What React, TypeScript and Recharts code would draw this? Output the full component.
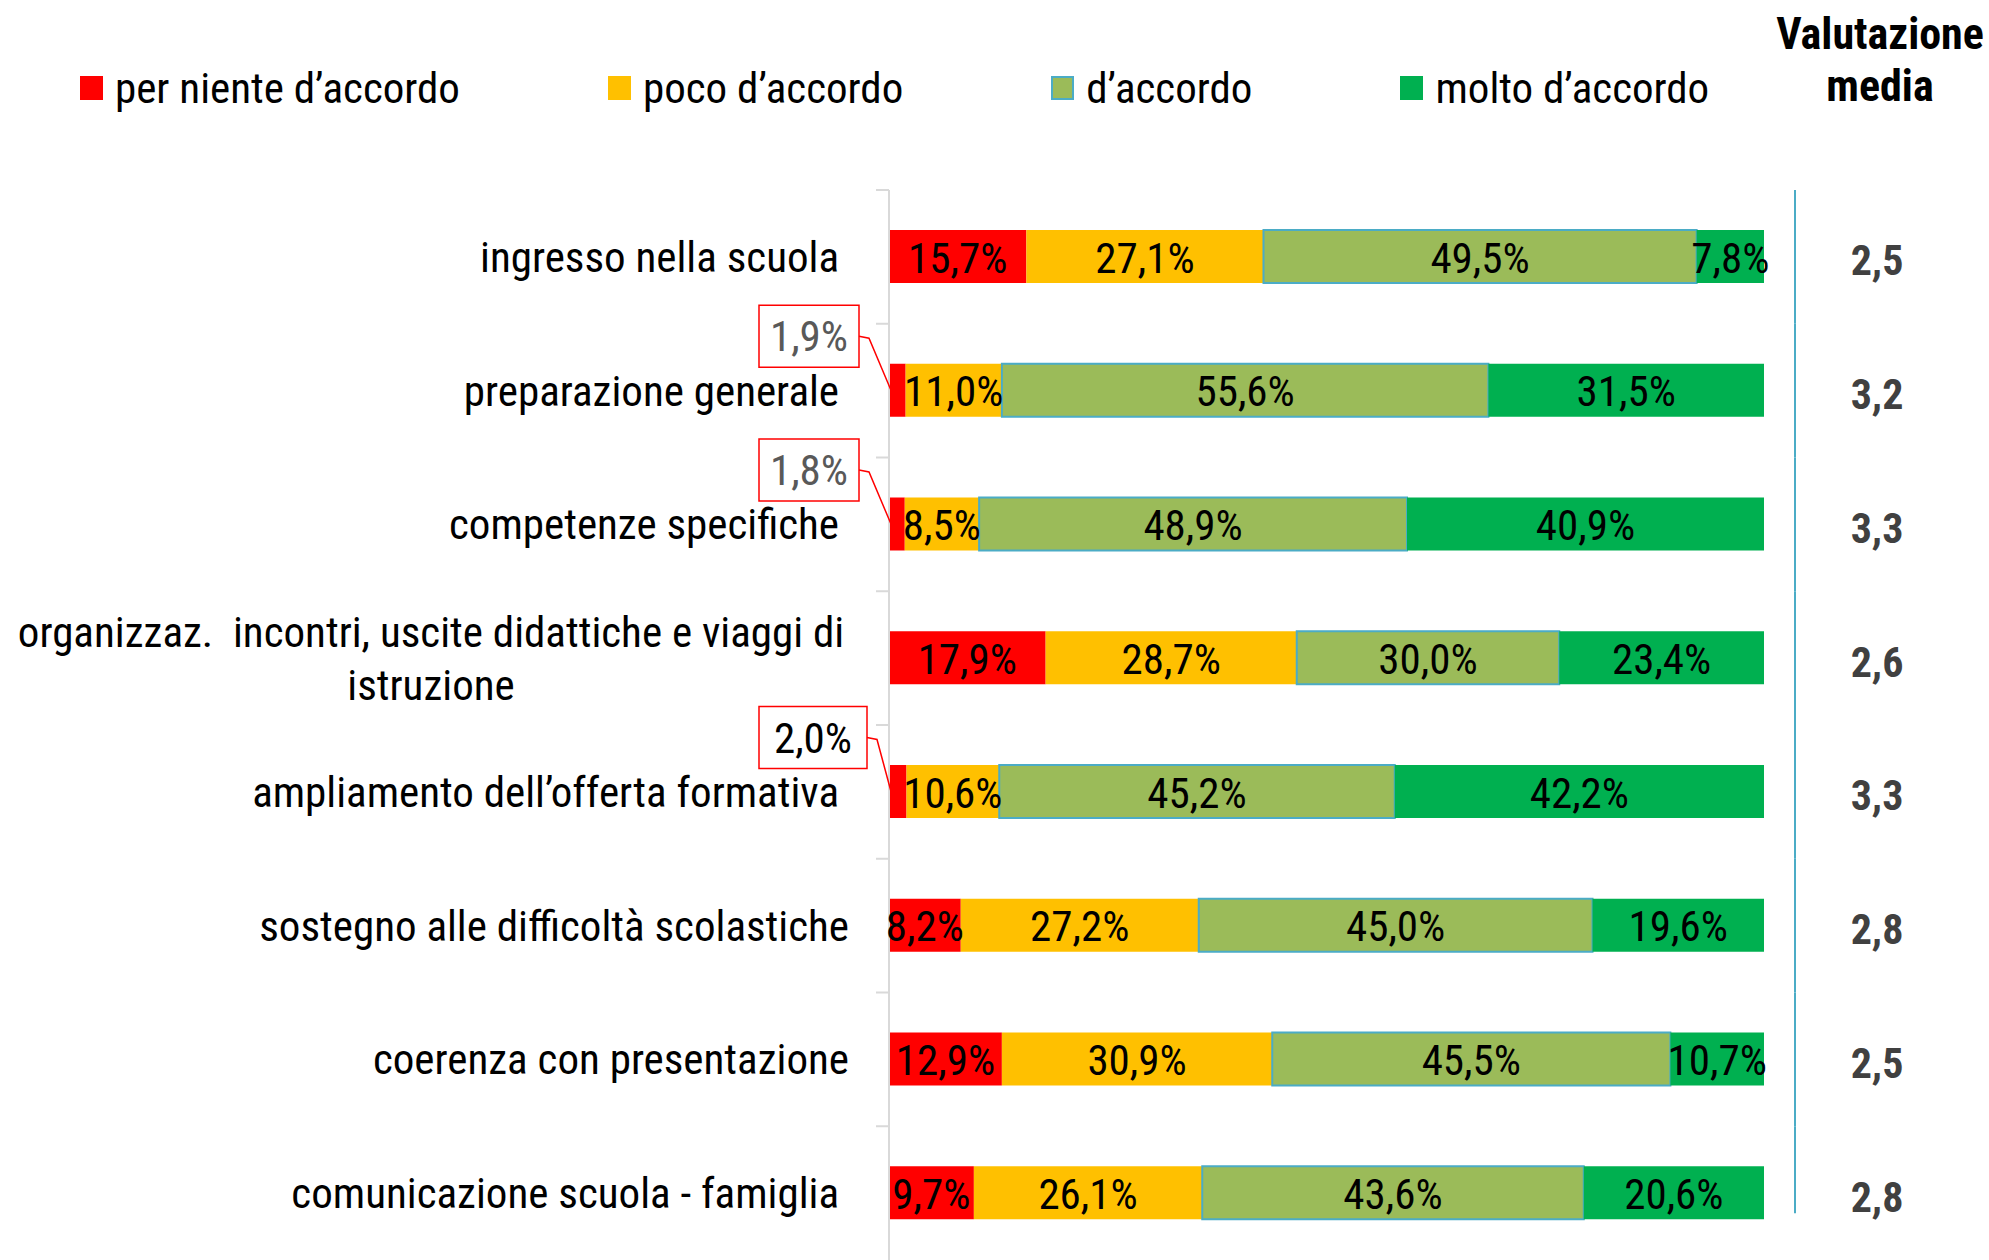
import { BarChart, Bar, XAxis, YAxis, Legend, LabelList } from "recharts";

const categories = [
  "ingresso nella scuola",
  "preparazione generale",
  "competenze specifiche",
  "organizzaz.  incontri, uscite didattiche e viaggi di\nistruzione",
  "ampliamento dell’offerta formativa",
  "sostegno alle difficoltà scolastiche",
  "coerenza con presentazione",
  "comunicazione scuola - famiglia",
];
const perNiente = [15.7, 1.9, 1.8, 17.9, 2.0, 8.2, 12.9, 9.7];
const poco = [27.1, 11.0, 8.5, 28.7, 10.6, 27.2, 30.9, 26.1];
const accordo = [49.5, 55.6, 48.9, 30.0, 45.2, 45.0, 45.5, 43.6];
const molto = [7.8, 31.5, 40.9, 23.4, 42.2, 19.6, 10.7, 20.6];
const media = ["2,5", "3,2", "3,3", "2,6", "3,3", "2,8", "2,5", "2,8"];

const seriesNames = ["per niente d’accordo", "poco d’accordo", "d’accordo", "molto d’accordo"];
const seriesKeys = ["perNiente", "poco", "accordo", "molto"];
const seriesColors = ["#FF0000", "#FFC000", "#9BBB59", "#00B050"];
const seriesStroke = ["none", "none", "#4BACC6", "none"];

const data = categories.map((name, i) => ({
  name,
  perNiente: perNiente[i],
  poco: poco[i],
  accordo: accordo[i],
  molto: molto[i],
  media: media[i],
}));

const FONT = '"Liberation Sans Narrow", "Roboto Condensed", Roboto, sans-serif';
const FS = 43;

const pct = (v: number) => v.toFixed(1).replace(".", ",") + "%";

// etichetta centrata, con riquadro richiamo per i valori piccoli
const renderLabel = (withCallout: boolean) => (props: any) => {
  const { x, y, width, height, value, index } = props;
  const cy = y + height / 2;
  if (withCallout && value < 5) {
    const bw = index === 4 ? 108 : 100;
    const bh = 62;
    const right = x - 30 + (index === 4 ? 8 : 0);
    const by = cy - 54;
    return (
      <g>
        <rect x={right - bw} y={by - bh / 2} width={bw} height={bh} fill="#fff" stroke="#FF0000" strokeWidth={1.5} />
        <polyline
          points={`${right},${by} ${right + 10},${by + 2} ${x + 2},${cy}`}
          fill="none"
          stroke="#FF0000"
          strokeWidth={1.5}
        />
        <text x={right - bw / 2} y={by} textAnchor="middle" dominantBaseline="central" fontFamily={FONT} fontSize={FS} fill={index === 4 ? "#000" : "#595959"}>
          {pct(value)}
        </text>
      </g>
    );
  }
  return (
    <text x={x + width / 2} y={cy + 1} textAnchor="middle" dominantBaseline="central" fontFamily={FONT} fontSize={FS} fill="#000">
      {pct(value)}
    </text>
  );
};

const CategoryTick = (props: any) => {
  const { x, y, payload, index } = props;
  const half = payload.offset ?? 67;
  const lines = String(payload.value).split("\n");
  const pad = index === 5 || index === 6 ? 40 : 50;
  return (
    <g>
      <line x1={x - 13} x2={x} y1={y - half} y2={y - half} stroke="#D9D9D9" strokeWidth={2} />
      {lines.length === 1 ? (
        <text x={x - pad} y={y} textAnchor="end" dominantBaseline="central" fontFamily={FONT} fontSize={FS} fill="#000">
          {lines[0]}
        </text>
      ) : (
        lines.map((l, i) => (
          <text
            key={i}
            x={x - 458}
            y={y + (i - (lines.length - 1) / 2) * 53}
            textAnchor="middle"
            dominantBaseline="central"
            fontFamily={FONT}
            fontSize={FS}
            fill="#000"
            style={{ whiteSpace: "pre" }}
          >
            {l}
          </text>
        ))
      )}
    </g>
  );
};

const MediaTick = (props: any) => {
  const { x, y, payload, index } = props;
  const half = payload.offset ?? 67;
  const last = index === categories.length - 1;
  return (
    <g>
      <line x1={x + 31} x2={x + 31} y1={y - half} y2={last ? y + 20 : y + half} stroke="#4BACC6" strokeWidth={2} />
      <text x={x + 113} y={y + 4} textAnchor="middle" dominantBaseline="central" fontFamily={FONT} fontSize={42} fontWeight="bold" fill="#404040">
        {media[index]}
      </text>
    </g>
  );
};

const LegendContent = () => (
  <div style={{ display: "flex", alignItems: "center", gap: 148, fontFamily: FONT, fontSize: FS, lineHeight: "52px", whiteSpace: "nowrap" }}>
    {seriesNames.map((n, i) => (
      <div key={n} style={{ display: "flex", alignItems: "center" }}>
        <span
          style={{
            display: "inline-block",
            width: 23,
            height: 24,
            background: seriesColors[i],
            boxSizing: "border-box",
            border: seriesStroke[i] !== "none" ? `2px solid ${seriesStroke[i]}` : "none",
            marginRight: 12,
          }}
        />
        <span>{n}</span>
      </div>
    ))}
  </div>
);

export default function App() {
  return (
    <div style={{ position: "absolute", left: 0, top: 0, width: 1989, height: 1260, background: "#fff" }}>
      <BarChart
        width={1989}
        height={1260}
        data={data}
        layout="vertical"
        margin={{ top: 190, right: 0, bottom: 0, left: 0 }}
        barSize={53}
      >
        <XAxis type="number" hide domain={[0, 100]} allowDataOverflow />
        <YAxis
          type="category"
          dataKey="name"
          width={889}
          tick={<CategoryTick />}
          tickSize={0}
          tickMargin={0}
          tickLine={false}
          axisLine={{ stroke: "#D9D9D9", strokeWidth: 2 }}
          interval={0}
        />
        <YAxis
          yAxisId="right"
          orientation="right"
          type="category"
          dataKey="name"
          width={225}
          tick={<MediaTick />}
          tickSize={0}
          tickMargin={0}
          tickLine={false}
          axisLine={false}
          interval={0}
        />
        <Legend
          layout="horizontal"
          verticalAlign="middle"
          align="center"
          content={<LegendContent />}
          wrapperStyle={{ top: 62, left: 80, width: "auto" }}
        />
        {seriesKeys.map((k, i) => (
          <Bar
            key={k}
            dataKey={k}
            name={seriesNames[i]}
            stackId="a"
            fill={seriesColors[i]}
            stroke={seriesStroke[i]}
            strokeWidth={2}
            isAnimationActive={false}
          >
            <LabelList dataKey={k} content={renderLabel(i === 0)} />
          </Bar>
        ))}
      </BarChart>
      <div
        style={{
          position: "absolute",
          left: 1770,
          top: 8,
          width: 220,
          textAlign: "center",
          fontFamily: FONT,
          fontSize: 44,
          fontWeight: "bold",
          lineHeight: "52px",
        }}
      >
        Valutazione
        <br />
        media
      </div>
    </div>
  );
}
